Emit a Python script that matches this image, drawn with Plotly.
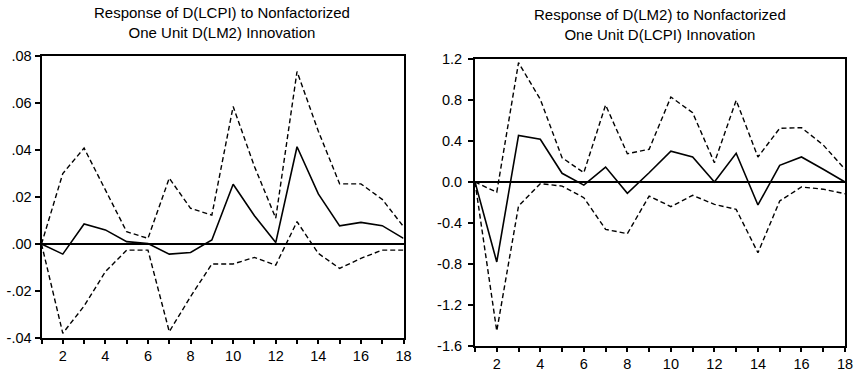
import plotly.graph_objects as go

periods = list(range(1, 19))

# Left panel: Response of D(LCPI) to D(LM2)
lcpi_resp = [0.0, -0.0043, 0.0085, 0.006, 0.001, 0.0002, -0.0043, -0.0036, 0.0017,
             0.0254, 0.012, 0.0006, 0.0414, 0.0213, 0.0077, 0.0092, 0.0078, 0.0024]
lcpi_upper = [0.0, 0.030, 0.0408, 0.0228, 0.0052, 0.0024, 0.028, 0.0152, 0.0123,
              0.0585, 0.033, 0.011, 0.0734, 0.048, 0.0256, 0.0256, 0.019, 0.0074]
lcpi_lower = [0.0, -0.038, -0.0264, -0.0118, -0.0026, -0.0026, -0.0373, -0.0224, -0.0085,
              -0.0085, -0.0057, -0.009, 0.0095, -0.004, -0.0104, -0.0061, -0.0026, -0.0026]

# Right panel: Response of D(LM2) to D(LCPI)
lm2_resp = [0.0, -0.78, 0.455, 0.417, 0.085, -0.03, 0.146, -0.11, 0.09,
            0.30, 0.244, 0.0, 0.28, -0.224, 0.163, 0.244, 0.124, 0.0]
lm2_upper = [0.0, -0.10, 1.164, 0.807, 0.237, 0.091, 0.751, 0.276, 0.319,
             0.829, 0.676, 0.188, 0.797, 0.244, 0.524, 0.53, 0.361, 0.124]
lm2_lower = [0.0, -1.454, -0.234, -0.016, -0.04, -0.153, -0.462, -0.504, -0.137,
             -0.24, -0.13, -0.218, -0.267, -0.69, -0.185, -0.049, -0.07, -0.114]

left_yticks = [-0.04, -0.02, 0.0, 0.02, 0.04, 0.06, 0.08]
left_ytext = ["-.04", "-.02", ".00", ".02", ".04", ".06", ".08"]
right_yticks = [-1.6, -1.2, -0.8, -0.4, 0.0, 0.4, 0.8, 1.2]
right_ytext = ["-1.6", "-1.2", "-0.8", "-0.4", "0.0", "0.4", "0.8", "1.2"]
xtext = [str(p) if p % 2 == 0 else "" for p in periods]

titles = ["Response of D(LCPI) to Nonfactorized<br>One Unit D(LM2) Innovation",
          "Response of D(LM2) to Nonfactorized<br>One Unit D(LCPI) Innovation"]

W, H = 859, 372
FONT = "Liberation Sans, Arial, sans-serif"

def px_x(p):
    return p / W

def px_y(p):
    return (H - p) / H

fig = go.Figure()

def add_panel(idx, resp, up, lo):
    xa = "x" if idx == 1 else "x2"
    ya = "y" if idx == 1 else "y2"
    for s in (up, lo):
        fig.add_trace(go.Scatter(x=periods, y=s, mode="lines", xaxis=xa, yaxis=ya,
                                 line=dict(color="black", width=1.4, dash="5px,3px"),
                                 showlegend=False, hoverinfo="skip"))
    fig.add_trace(go.Scatter(x=periods, y=resp, mode="lines", xaxis=xa, yaxis=ya,
                             line=dict(color="black", width=1.6),
                             showlegend=False, hoverinfo="skip"))

add_panel(1, lcpi_resp, lcpi_upper, lcpi_lower)
add_panel(2, lm2_resp, lm2_upper, lm2_lower)

axis_common = dict(showline=True, mirror=True, linecolor="black", linewidth=2,
                   ticks="outside", tickwidth=1.5, tickcolor="black",
                   showgrid=False, automargin=False,
                   tickfont=dict(family=FONT, size=14.5, color="black"))

fig.update_layout(
    template="none",
    width=W, height=H,
    margin=dict(l=0, r=0, t=0, b=0, autoexpand=False),
    paper_bgcolor="white", plot_bgcolor="white",
    font=dict(family=FONT, color="black"),
    xaxis=dict(domain=[px_x(41.5), px_x(403.5)], range=[1, 18], tickvals=periods,
               ticktext=xtext, anchor="y", zeroline=False, ticklen=4,
               **axis_common),
    yaxis=dict(domain=[px_y(338), px_y(56)], range=[-0.04, 0.08], ticklen=5,
               tickvals=left_yticks, ticktext=left_ytext, anchor="x", ticklabelstandoff=0,
               zeroline=True, zerolinecolor="black", zerolinewidth=1.5, **axis_common),
    xaxis2=dict(domain=[px_x(475), px_x(845)], range=[1, 18], tickvals=periods,
                ticktext=xtext, anchor="y2", zeroline=False, ticklen=4,
                **axis_common),
    yaxis2=dict(domain=[px_y(346), px_y(59)], range=[-1.6, 1.2], ticklen=5,
                tickvals=right_yticks, ticktext=right_ytext, anchor="x2", ticklabelstandoff=3,
                zeroline=True, zerolinecolor="black", zerolinewidth=1.5, **axis_common),
    annotations=[
        dict(text=titles[0], x=px_x(222.5), y=px_y(22.5), xref="paper", yref="paper",
             xanchor="center", yanchor="middle", showarrow=False,
             font=dict(family=FONT, size=15, color="black")),
        dict(text=titles[1], x=px_x(660), y=px_y(24), xref="paper", yref="paper",
             xanchor="center", yanchor="middle", showarrow=False,
             font=dict(family=FONT, size=15, color="black")),
    ],
)

# remove the browser's default 8px body margin so the figure sits at the page origin
fig.write_html("out.html", config={"displayModeBar": False},
               post_script="document.body.style.margin='0px';")
